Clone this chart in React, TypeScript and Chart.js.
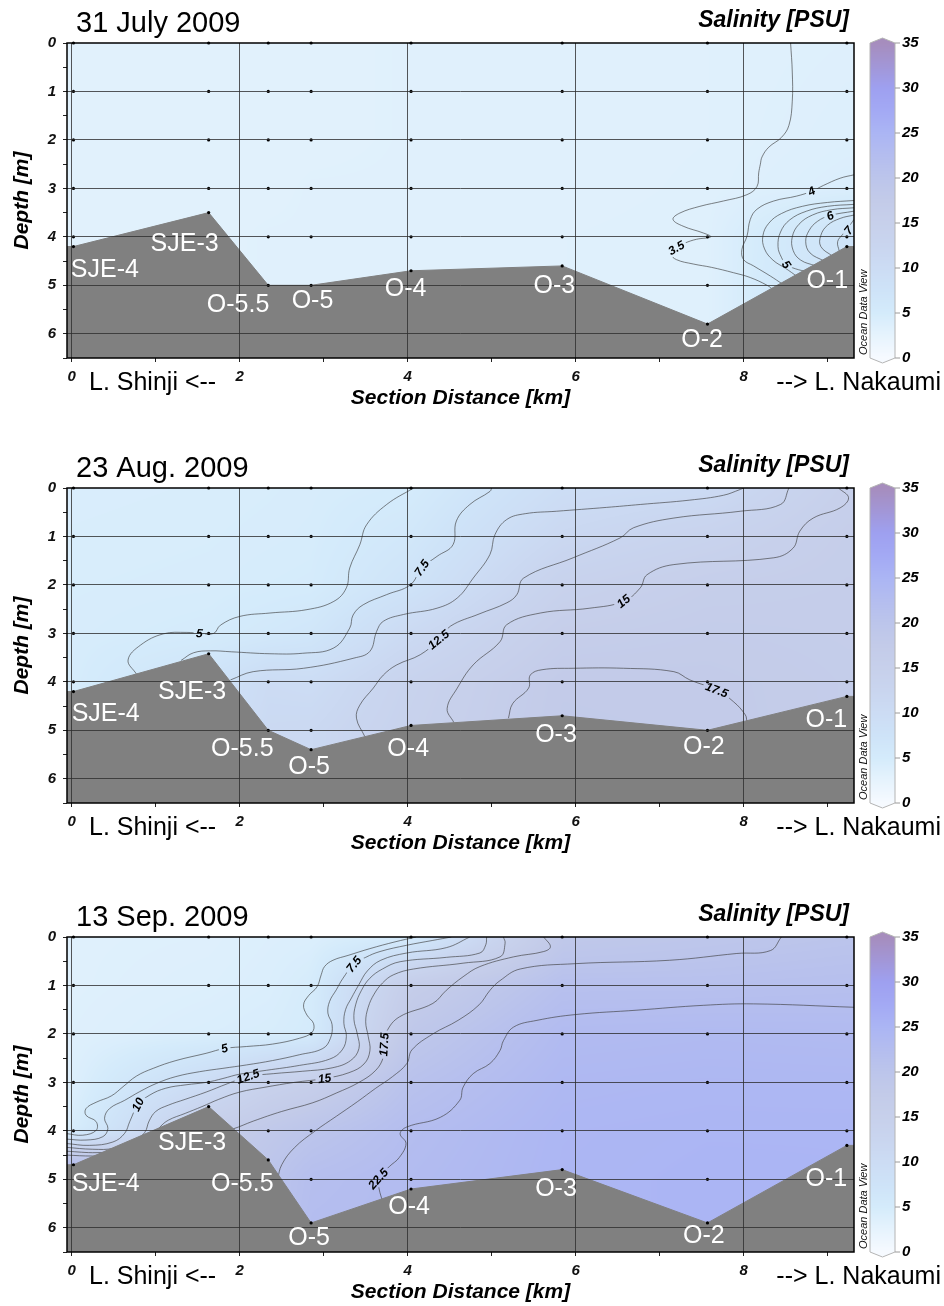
import React, { useEffect, useRef } from 'react';
import { Chart, registerables } from 'chart.js';

Chart.register(...registerables);

// ---------------- data ----------------
const stationKm = [0.02, 1.63, 2.34, 2.85, 4.04, 5.84, 7.57, 9.23];
const stationNames = ['SJE-4', 'SJE-3', 'O-5.5', 'O-5', 'O-4', 'O-3', 'O-2', 'O-1'];
const profileDepths = [0, 1, 2, 3, 4, 5, 6];
const colorbarTicks = [0, 5, 10, 15, 20, 25, 30, 35];
const panelTitles = ['31 July 2009', '23 Aug. 2009', '13 Sep. 2009'];

// bottom depth (m) at each station
const julyBottom = [4.2, 3.5, 5.0, 5.0, 4.7, 4.6, 5.8, 4.2];
const augBottom = [4.2, 3.42, 5.0, 5.4, 4.9, 4.7, 5.0, 4.3];
const sepBottom = [4.7, 3.5, 4.6, 5.9, 5.2, 4.8, 5.9, 4.3];

// salinity profiles (PSU) at profileDepths for each station
const julySalinity = [
  [3.2, 3.2, 3.2, 3.2, 3.2, 3.2, 3.2],
  [3.2, 3.2, 3.2, 3.2, 3.2, 3.2, 3.2],
  [3.2, 3.2, 3.2, 3.2, 3.3, 3.3, 3.3],
  [3.2, 3.2, 3.2, 3.3, 3.3, 3.3, 3.3],
  [3.3, 3.3, 3.3, 3.3, 3.3, 3.3, 3.3],
  [3.3, 3.3, 3.3, 3.3, 3.4, 3.4, 3.4],
  [3.4, 3.4, 3.4, 3.45, 3.5, 3.45, 3.45],
  [3.6, 3.7, 3.8, 4.1, 7.5, 7.8, 7.8],
];
const augSalinity = [
  [4.3, 4.4, 4.5, 4.6, 4.7, 4.7, 4.7],
  [4.4, 4.5, 4.6, 5.0, 7.5, 7.5, 7.5],
  [4.5, 4.6, 4.8, 5.8, 10.2, 11, 11],
  [4.6, 4.7, 4.9, 6.5, 9.8, 11.2, 11.2],
  [5.0, 6.2, 7.5, 10.8, 13.5, 14, 14],
  [9.5, 11.5, 14, 16, 17.6, 17.8, 17.8],
  [10.5, 13.5, 15.8, 16.8, 17.5, 17.6, 17.6],
  [15, 16, 16.3, 16.5, 16.7, 16.7, 16.7],
];
const sepSalinity = [
  [3.5, 3.5, 3.6, 3.8, 4.5, 30, 30],
  [3.6, 3.8, 4.2, 10, 16, 18, 18],
  [3.9, 4.1, 4.5, 14, 18.5, 20, 20],
  [4.0, 4.8, 5.0, 15.5, 20, 22, 22.5],
  [5.0, 16.5, 19, 21, 22.5, 23, 23],
  [18.5, 21.5, 23.2, 24, 24.5, 24.6, 24.6],
  [19.4, 21.5, 23.5, 24.3, 24.8, 25, 25],
  [20.2, 21.8, 23.3, 24.2, 24.8, 24.9, 24.9],
];

// contour lines [km, depth]
const julyC35 = [[8.56,0],[8.58,0.6],[8.58,1.2],[8.54,1.7],[8.45,1.95],[8.3,2.15],[8.22,2.35],[8.2,2.5],[8.18,2.68],[8.16,2.96],[8.04,3.13],[7.76,3.26],[7.48,3.37],[7.24,3.51],[7.16,3.64],[7.28,3.78],[7.52,3.92],[7.61,4.0],[7.44,4.05],[7.3,4.13],[7.2,4.23],[7.14,4.36],[7.2,4.47],[7.4,4.56],[7.62,4.63],[7.88,4.74],[8.08,4.84],[8.28,5.0],[8.36,5.1]];
const julyC4 = [[9.315,2.72],[9.15,2.79],[8.95,2.94],[8.81,3.06],[8.63,3.16],[8.36,3.26],[8.16,3.43],[8.08,3.64],[8.04,3.99],[7.98,4.26],[8.0,4.47],[8.12,4.6],[8.32,4.81],[8.46,4.97]];
const julyC45 = [[9.315,3.25],[9.0,3.29],[8.7,3.37],[8.45,3.52],[8.3,3.72],[8.23,3.98],[8.25,4.25],[8.35,4.48],[8.5,4.65],[8.64,4.82]];
const julyC5 = [[9.315,3.33],[9.0,3.37],[8.75,3.47],[8.55,3.65],[8.44,3.9],[8.41,4.2],[8.45,4.42],[8.51,4.57],[8.62,4.66],[8.76,4.72]];
const julyC55 = [[9.315,3.4],[9.05,3.44],[8.82,3.55],[8.66,3.74],[8.58,4.0],[8.59,4.28],[8.68,4.48],[8.86,4.6]];
const julyC6 = [[9.315,3.47],[9.03,3.56],[8.88,3.68],[8.78,3.87],[8.74,4.1],[8.79,4.33],[8.96,4.5]];
const julyC65 = [[9.315,3.55],[9.15,3.62],[9.0,3.76],[8.92,3.97],[8.92,4.2],[9.06,4.4]];
const julyC7 = [[9.315,3.64],[9.25,3.8],[9.18,3.95],[9.12,4.1],[9.14,4.3]];

const augC5 = [[0.77,3.84],[0.67,3.55],[0.82,3.24],[1.09,3.01],[1.37,2.98],[1.52,3.0],[1.69,3.0],[1.77,2.83],[2.0,2.65],[2.36,2.58],[2.8,2.51],[3.12,2.34],[3.27,2.06],[3.31,1.65],[3.43,1.17],[3.51,0.76],[3.75,0.34],[4.07,0]];
const augC75 = [[1.3,3.56],[1.45,3.4],[1.65,3.36],[1.9,3.38],[2.36,3.42],[2.75,3.41],[3.12,3.3],[3.31,2.89],[3.35,2.62],[3.47,2.41],[3.75,2.2],[4.03,2.0],[4.17,1.65],[4.35,1.41],[4.54,1.17],[4.58,0.68],[4.74,0.34],[4.98,0.07],[5.0,0]];
const augC10 = [[1.89,3.96],[2.16,3.79],[2.76,3.72],[3.36,3.51],[3.55,3.37],[3.63,2.96],[3.71,2.75],[3.95,2.61],[4.35,2.48],[4.59,2.27],[4.78,1.86],[4.98,1.37],[5.04,0.96],[5.18,0.65],[5.4,0.53],[5.77,0.48],[6.37,0.4],[6.77,0.34],[7.36,0.25],[7.76,0.15],[7.96,0.03],[8.0,0]];
const augC125 = [[3.49,5.13],[3.39,4.75],[3.43,4.48],[3.59,4.13],[3.71,3.86],[3.87,3.65],[4.15,3.44],[4.37,3.13],[4.51,2.85],[4.85,2.6],[5.18,2.37],[5.3,2.2],[5.38,1.86],[5.97,1.44],[6.53,1.03],[6.69,0.82],[7.17,0.62],[7.96,0.48],[8.44,0.34],[8.54,0]];
const augC15 = [[9.13,0],[9.25,0.2],[9.15,0.41],[8.83,0.62],[8.67,0.89],[8.59,1.24],[8.36,1.44],[7.17,1.58],[6.85,1.79],[6.77,2.06],[6.57,2.34],[6.17,2.48],[5.58,2.58],[5.18,2.82],[5.1,3.17],[4.78,3.65],[4.59,4.13],[4.47,4.55],[4.55,4.84]];
const augC175 = [[5.2,4.75],[5.25,4.45],[5.44,4.13],[5.46,3.86],[5.6,3.75],[5.97,3.72],[6.57,3.72],[7.17,3.79],[7.36,3.96],[7.68,4.17],[7.88,4.41],[8.02,4.68],[8.04,4.82]];

const sepC5 = [[-0.07,4.055],[0.13,4.09],[0.29,3.99],[0.29,3.81],[0.17,3.68],[0.17,3.54],[0.29,3.41],[0.47,3.28],[0.61,3.09],[0.77,2.87],[0.97,2.71],[1.24,2.55],[1.6,2.4],[1.82,2.3],[2.08,2.26],[2.39,2.21],[2.71,2.09],[2.86,1.97],[2.88,1.79],[2.8,1.61],[2.76,1.4],[2.82,1.21],[2.92,1.03],[2.97,0.78],[3.01,0.61],[3.11,0.48],[3.29,0.38],[3.55,0.24],[3.85,0.1],[4.1,0]];
const sepC75 = [[-0.07,4.17],[0.17,4.19],[0.37,4.12],[0.43,3.95],[0.39,3.74],[0.45,3.54],[0.63,3.37],[0.81,3.19],[1.01,3.02],[1.24,2.88],[1.52,2.78],[1.8,2.71],[2.08,2.64],[2.39,2.55],[2.71,2.43],[2.99,2.3],[3.08,2.09],[3.1,1.81],[3.05,1.57],[3.07,1.33],[3.15,1.09],[3.23,0.85],[3.36,0.565],[3.5,0.42],[3.67,0.3],[3.99,0.17],[4.3,0.07],[4.52,0]];
const sepC10 = [[-0.07,4.26],[0.21,4.3],[0.49,4.23],[0.63,4.05],[0.69,3.81],[0.79,3.46],[0.93,3.26],[1.12,3.12],[1.36,3.05],[1.6,3.0],[1.8,2.92],[2.0,2.83],[2.32,2.75],[2.71,2.65],[3.07,2.52],[3.22,2.33],[3.27,2.05],[3.24,1.78],[3.26,1.5],[3.33,1.26],[3.42,0.98],[3.52,0.7],[3.68,0.48],[3.99,0.33],[4.46,0.22],[4.74,0]];
const sepC125 = [[-0.07,4.34],[0.25,4.38],[0.5,4.36],[0.75,4.2],[0.87,4.03],[0.92,3.8],[1.0,3.6],[1.15,3.47],[1.35,3.35],[1.6,3.2],[1.85,3.03],[2.1,2.88],[2.4,2.82],[2.75,2.77],[3.1,2.7],[3.32,2.55],[3.42,2.3],[3.4,2.0],[3.36,1.7],[3.38,1.4],[3.45,1.1],[3.55,0.85],[3.7,0.66],[3.91,0.51],[4.46,0.42],[4.86,0.33],[4.93,0.16],[4.94,0]];
const sepC15 = [[-0.07,4.42],[0.3,4.45],[0.6,4.4],[0.9,4.2],[1.05,3.92],[1.15,3.78],[1.35,3.64],[1.55,3.5],[1.75,3.35],[2.0,3.2],[2.3,3.1],[2.65,3.0],[3.01,2.92],[3.3,2.8],[3.48,2.62],[3.55,2.35],[3.53,2.05],[3.5,1.75],[3.53,1.45],[3.6,1.18],[3.7,0.95],[3.83,0.78],[4.07,0.66],[4.66,0.54],[5.1,0.41],[5.16,0.13],[5.14,0]];
const sepC175 = [[-0.07,4.5],[0.25,4.52],[0.6,4.5],[1.2,4.3],[1.7,4.05],[1.92,3.96],[2.16,3.8],[2.5,3.6],[2.87,3.42],[3.15,3.22],[3.42,3.0],[3.62,2.75],[3.71,2.48],[3.72,2.22],[3.75,1.95],[3.9,1.65],[4.3,1.37],[4.46,1.1],[4.66,0.82],[4.86,0.61],[5.26,0.41],[5.62,0.3],[5.7,0.2],[5.62,0]];
const sepC20 = [[8.45,0],[8.32,0.28],[7.92,0.34],[7.12,0.48],[6.0,0.55],[5.34,0.66],[5.1,0.9],[4.98,1.1],[4.85,1.4],[4.6,1.72],[4.3,2.0],[4.05,2.33],[3.99,2.61],[3.82,2.88],[3.62,3.12],[3.4,3.4],[3.15,3.7],[2.9,4.0],[2.65,4.35],[2.5,4.7],[2.45,5.0]];
const sepC225 = [[9.315,1.45],[8.12,1.38],[7.52,1.41],[6.73,1.51],[6.0,1.6],[5.54,1.72],[5.26,1.86],[5.14,2.14],[5.1,2.34],[4.98,2.61],[4.78,2.82],[4.66,3.1],[4.62,3.37],[4.39,3.72],[3.99,3.92],[3.91,4.06],[3.98,4.26],[3.9,4.55],[3.78,4.74],[3.65,4.99],[3.66,5.2],[3.7,5.45]];

const julyLevels = [3.5, 4, 4.5, 5, 5.5, 6, 6.5, 7];
const augLevels = [5, 7.5, 10, 12.5, 15, 17.5];
const sepLevels = [5, 7.5, 10, 12.5, 15, 17.5, 20, 22.5];

// contour labels: [level, km, depth]
const julyLabels = [[3.5, 7.2, 4.23], [4, 8.81, 3.06], [5, 8.51, 4.57], [6, 9.03, 3.57], [7, 9.25, 3.87]];
const augLabels = [[5, 1.52, 3.0], [7.5, 4.17, 1.65], [12.5, 4.37, 3.13], [15, 6.57, 2.34], [17.5, 7.68, 4.17]];
const sepLabels = [[5, 1.82, 2.3], [7.5, 3.36, 0.565], [10, 0.79, 3.46], [12.5, 2.1, 2.88], [15, 3.01, 2.92], [17.5, 3.72, 2.22], [22.5, 3.65, 4.99]];

// station name annotations [km, depth] (left edge, vertical centre)
const julyNamePos = [[0.0, 4.69], [0.95, 4.14], [1.62, 5.4], [2.63, 5.33], [3.74, 5.07], [5.51, 5.02], [7.27, 6.14], [8.76, 4.92]];
const augNamePos = [[0.01, 4.66], [1.04, 4.21], [1.67, 5.38], [2.59, 5.76], [3.77, 5.38], [5.53, 5.1], [7.29, 5.35], [8.75, 4.78]];
const sepNamePos = [[0.01, 5.1], [1.04, 4.25], [1.67, 5.1], [2.59, 6.21], [3.78, 5.57], [5.53, 5.21], [7.29, 6.17], [8.75, 5.0]];

// ---------------- styles / layout ----------------
const FONT = '"Liberation Sans", Arial, Helvetica, sans-serif';
const COLORMAP: [number, string][] = [
  [0, '#f6faff'], [2.5, '#e6f3fd'], [5, '#d4ebfb'], [7.5, '#cee3f8'], [10, '#ccdcf4'],
  [12.5, '#c9d5ef'], [15, '#c7d0eb'], [17.5, '#c3cbe9'], [20, '#bcc5eb'], [22.5, '#b4bdef'],
  [25, '#abb5f4'], [27.5, '#a3a9f4'], [30, '#9ea0f0'], [32.5, '#a296d6'], [35, '#a68dbd'],
];
const X_MIN = -0.057;
const X_MAX = 9.315;
const Y_MAX = 6.5;
const PLOT_TOP = 43;
const PLOT_H = 315;
const Y_AXIS_W = 67;
const RIGHT_PAD = 90;
const GRID = 'rgba(45,45,45,0.8)';
const CONTOUR = 'rgba(60,60,60,0.8)';

const PANELS = [
  { title: panelTitles[0], bottom: julyBottom, salinity: julySalinity, contours: [julyC35, julyC4, julyC45, julyC5, julyC55, julyC6, julyC65, julyC7], levels: julyLevels, labels: julyLabels, names: julyNamePos, top: 0, height: 445 },
  { title: panelTitles[1], bottom: augBottom, salinity: augSalinity, contours: [augC5, augC75, augC10, augC125, augC15, augC175], levels: augLevels, labels: augLabels, names: augNamePos, top: 445, height: 449 },
  { title: panelTitles[2], bottom: sepBottom, salinity: sepSalinity, contours: [sepC5, sepC75, sepC10, sepC125, sepC15, sepC175, sepC20, sepC225], levels: sepLevels, labels: sepLabels, names: sepNamePos, top: 894, height: 412 },
];

// ---------------- helpers ----------------
function hexRgb(h: string): number[] {
  const n = parseInt(h.slice(1), 16);
  return [(n >> 16) & 255, (n >> 8) & 255, n & 255];
}
const CMAP = COLORMAP.map(([v, c]) => ({ v, c: hexRgb(c) }));
function salColor(v: number): number[] {
  if (v <= CMAP[0].v) return CMAP[0].c;
  for (let i = 1; i < CMAP.length; i++) {
    if (v <= CMAP[i].v) {
      const a = CMAP[i - 1], b = CMAP[i];
      const t = (v - a.v) / (b.v - a.v);
      return [a.c[0] + (b.c[0] - a.c[0]) * t, a.c[1] + (b.c[1] - a.c[1]) * t, a.c[2] + (b.c[2] - a.c[2]) * t];
    }
  }
  return CMAP[CMAP.length - 1].c;
}
function rgbStr(c: number[]) {
  return `rgb(${Math.round(c[0])},${Math.round(c[1])},${Math.round(c[2])})`;
}
function profileAt(vals: number[], d: number) {
  const n = profileDepths.length;
  if (d <= profileDepths[0]) return vals[0];
  if (d >= profileDepths[n - 1]) return vals[n - 1];
  let i = 0;
  while (d > profileDepths[i + 1]) i++;
  const t = (d - profileDepths[i]) / (profileDepths[i + 1] - profileDepths[i]);
  return vals[i] + (vals[i + 1] - vals[i]) * t;
}
function fieldAt(sal: number[][], km: number, d: number) {
  const n = stationKm.length;
  if (km <= stationKm[0]) return profileAt(sal[0], d);
  if (km >= stationKm[n - 1]) return profileAt(sal[n - 1], d);
  let j = 0;
  while (km > stationKm[j + 1]) j++;
  const t = (km - stationKm[j]) / (stationKm[j + 1] - stationKm[j]);
  return profileAt(sal[j], d) * (1 - t) + profileAt(sal[j + 1], d) * t;
}

const LABEL_FONT = `italic bold 12px ${FONT}`;

function labelGeoms(chart: any, spec: any) {
  const xs = chart.scales.x, ys = chart.scales.y;
  const ctx = chart.ctx;
  ctx.save();
  ctx.font = LABEL_FONT;
  const out = spec.labels.map(([level, km, depth]: number[]) => {
    const px = xs.getPixelForValue(km), py = ys.getPixelForValue(depth);
    let best = Infinity, ang = 0;
    spec.contours.forEach((pts: number[][], ci: number) => {
      if (spec.levels[ci] !== level) return;
      for (let i = 0; i < pts.length - 1; i++) {
        const x1 = xs.getPixelForValue(pts[i][0]), y1 = ys.getPixelForValue(pts[i][1]);
        const x2 = xs.getPixelForValue(pts[i + 1][0]), y2 = ys.getPixelForValue(pts[i + 1][1]);
        const dx = x2 - x1, dy = y2 - y1;
        const l2 = dx * dx + dy * dy || 1;
        let t = ((px - x1) * dx + (py - y1) * dy) / l2;
        t = Math.max(0, Math.min(1, t));
        const qx = x1 + dx * t - px, qy = y1 + dy * t - py;
        const dist = qx * qx + qy * qy;
        if (dist < best) { best = dist; ang = Math.atan2(dy, dx); }
      }
    });
    if (ang > Math.PI / 2) ang -= Math.PI;
    if (ang < -Math.PI / 2) ang += Math.PI;
    const text = String(level);
    const w = ctx.measureText(text).width + 5;
    return { level, px, py, ang, text, w, h: 12 };
  });
  ctx.restore();
  return out;
}

function makePlugin(spec: any) {
  return {
    id: 'odvPanel',
    beforeDatasetsDraw(chart: any) {
      const { left, top, right, bottom } = chart.chartArea;
      const xs = chart.scales.x, ys = chart.scales.y;
      const M = 14;
      const w = Math.ceil(right - left) + 2 * M, h = Math.ceil(bottom - top) + 2 * M;
      const off = document.createElement('canvas');
      off.width = w; off.height = h;
      const octx = off.getContext('2d')!;
      const img = octx.createImageData(w, h);
      for (let i = 0; i < w; i++) {
        const km = xs.getValueForPixel(left - M + i + 0.5);
        for (let j = 0; j < h; j++) {
          const d = ys.getValueForPixel(top - M + j + 0.5);
          const c = salColor(fieldAt(spec.salinity, km, d));
          const k = (j * w + i) * 4;
          img.data[k] = c[0]; img.data[k + 1] = c[1]; img.data[k + 2] = c[2]; img.data[k + 3] = 255;
        }
      }
      octx.putImageData(img, 0, 0);
      const ctx = chart.ctx;
      ctx.save();
      ctx.beginPath();
      ctx.rect(left, top, right - left, bottom - top);
      ctx.clip();
      ctx.filter = 'blur(5px)';
      ctx.drawImage(off, left - M, top - M);
      ctx.filter = 'none';
      ctx.restore();
      chart.$labelGeoms = labelGeoms(chart, spec);
    },
    beforeDatasetDraw(chart: any, args: any) {
      const ds = chart.data.datasets[args.index];
      if (ds.contourLevel === undefined) return;
      const ctx = chart.ctx;
      ctx.save();
      ctx.beginPath();
      ctx.rect(0, 0, chart.width, chart.height);
      (chart.$labelGeoms || []).filter((g: any) => g.level === ds.contourLevel).forEach((g: any) => {
        const c = Math.cos(g.ang), s = Math.sin(g.ang);
        const hw = g.w / 2, hh = g.h / 2;
        const corners = [[-hw, -hh], [-hw, hh], [hw, hh], [hw, -hh]];
        corners.forEach(([a, b], i) => {
          const X = g.px + a * c - b * s, Y = g.py + a * s + b * c;
          if (i === 0) ctx.moveTo(X, Y); else ctx.lineTo(X, Y);
        });
        ctx.closePath();
      });
      ctx.clip('evenodd');
    },
    afterDatasetDraw(chart: any, args: any) {
      const ds = chart.data.datasets[args.index];
      if (ds.contourLevel === undefined) return;
      chart.ctx.restore();
    },
    afterDraw(chart: any) {
      const ctx = chart.ctx;
      const xs = chart.scales.x, ys = chart.scales.y;
      const { left, top, right, bottom } = chart.chartArea;
      ctx.save();
      // contour labels
      ctx.fillStyle = '#000';
      ctx.font = LABEL_FONT;
      ctx.textAlign = 'center';
      ctx.textBaseline = 'middle';
      (chart.$labelGeoms || []).forEach((g: any) => {
        ctx.save();
        ctx.translate(g.px, g.py);
        ctx.rotate(g.ang);
        ctx.fillText(g.text, 0, 0.5);
        ctx.restore();
      });
      // station names
      ctx.fillStyle = '#ffffff';
      ctx.font = `25px ${FONT}`;
      ctx.textAlign = 'left';
      ctx.textBaseline = 'middle';
      spec.names.forEach(([km, d]: number[], i: number) => {
        ctx.fillText(stationNames[i], xs.getPixelForValue(km) - 1, ys.getPixelForValue(d));
      });
      // frame
      ctx.strokeStyle = '#000';
      ctx.lineWidth = 1.5;
      ctx.strokeRect(left, top, right - left, bottom - top);
      // titles
      ctx.fillStyle = '#000';
      ctx.textBaseline = 'alphabetic';
      ctx.textAlign = 'left';
      ctx.font = `29px ${FONT}`;
      ctx.fillText(spec.title, 76, 32);
      ctx.textAlign = 'right';
      ctx.font = `italic bold 23px ${FONT}`;
      ctx.fillText('Salinity [PSU]', 849, 27);
      // axis titles
      ctx.textAlign = 'center';
      ctx.font = `italic bold 21px ${FONT}`;
      ctx.fillText('Section Distance [km]', (left + right) / 2, bottom + 46);
      ctx.save();
      ctx.translate(28, (top + bottom) / 2);
      ctx.rotate(-Math.PI / 2);
      ctx.fillText('Depth [m]', 0, 0);
      ctx.restore();
      // lake directions
      ctx.font = `25px ${FONT}`;
      ctx.textAlign = 'left';
      ctx.fillText('L. Shinji <--', 89, bottom + 32);
      ctx.textAlign = 'right';
      ctx.fillText('--> L. Nakaumi', 941, bottom + 32);
      // colour bar
      const cbL = right + 16, cbR = right + 41, cbM = (cbL + cbR) / 2;
      const vmax = colorbarTicks[colorbarTicks.length - 1];
      for (let y = top; y < bottom; y++) {
        const v = vmax * (bottom - (y + 0.5)) / (bottom - top);
        ctx.fillStyle = rgbStr(salColor(v));
        ctx.fillRect(cbL, y, cbR - cbL, 1);
      }
      ctx.fillStyle = rgbStr(salColor(vmax));
      ctx.beginPath(); ctx.moveTo(cbL, top); ctx.lineTo(cbM, top - 5); ctx.lineTo(cbR, top); ctx.closePath(); ctx.fill();
      ctx.fillStyle = rgbStr(salColor(0));
      ctx.beginPath(); ctx.moveTo(cbL, bottom); ctx.lineTo(cbM, bottom + 5); ctx.lineTo(cbR, bottom); ctx.closePath(); ctx.fill();
      ctx.strokeStyle = '#b4b4b4';
      ctx.lineWidth = 1;
      ctx.beginPath();
      ctx.moveTo(cbL, top); ctx.lineTo(cbM, top - 5); ctx.lineTo(cbR, top); ctx.lineTo(cbR, bottom);
      ctx.lineTo(cbM, bottom + 5); ctx.lineTo(cbL, bottom); ctx.closePath(); ctx.stroke();
      ctx.font = `italic bold 15px ${FONT}`;
      ctx.textAlign = 'left';
      ctx.textBaseline = 'middle';
      ctx.fillStyle = '#000';
      colorbarTicks.forEach((v) => {
        const y = bottom - (bottom - top) * v / vmax;
        ctx.strokeStyle = '#9a9a9a';
        ctx.beginPath(); ctx.moveTo(cbR, y); ctx.lineTo(cbR + 5, y); ctx.stroke();
        ctx.fillText(String(v), cbR + 7, y);
      });
      // ODV tag
      ctx.save();
      ctx.translate(right + 12.5, bottom - 3);
      ctx.rotate(-Math.PI / 2);
      ctx.font = `italic 11px ${FONT}`;
      ctx.textAlign = 'left';
      ctx.textBaseline = 'alphabetic';
      ctx.fillStyle = '#111';
      ctx.fillText('Ocean Data View', 0, 0);
      ctx.restore();
      ctx.restore();
    },
  };
}

function buildConfig(spec: any): any {
  const topo = [{ x: X_MIN, y: spec.bottom[0] }, ...stationKm.map((k, i) => ({ x: k, y: spec.bottom[i] })), { x: X_MAX, y: spec.bottom[spec.bottom.length - 1] }];
  const dots: { x: number; y: number }[] = [];
  stationKm.forEach((k, i) => {
    const b = spec.bottom[i];
    for (let d = 0; d <= b + 1e-6; d++) dots.push({ x: k, y: d });
    if (Math.abs(b - Math.round(b)) > 1e-6) dots.push({ x: k, y: b });
  });
  const tickFont = { family: FONT, size: 15, style: 'italic', weight: 'bold' };
  const contourSets = spec.contours.map((pts: number[][], i: number) => ({
    type: 'line',
    label: 'S ' + spec.levels[i],
    contourLevel: spec.levels[i],
    data: pts.map(([x, y]) => ({ x, y })),
    showLine: true,
    borderColor: CONTOUR,
    borderWidth: 0.8,
    pointRadius: 0,
    tension: 0.4,
    fill: false,
    order: 2,
  }));
  return {
    type: 'scatter',
    data: {
      datasets: [
        { type: 'scatter', label: 'samples', data: dots, pointRadius: 1.6, pointBackgroundColor: '#000', pointBorderWidth: 0, order: 0, clip: false },
        { type: 'line', label: 'bottom', data: topo, showLine: true, fill: { value: Y_MAX }, backgroundColor: '#808080', borderColor: '#808080', borderWidth: 1, pointRadius: 0, tension: 0, order: 1 },
        ...contourSets,
      ],
    },
    options: {
      responsive: false,
      maintainAspectRatio: false,
      animation: false,
      events: [],
      layout: { padding: { left: 0, right: RIGHT_PAD, top: PLOT_TOP, bottom: 0 } },
      plugins: { legend: { display: false }, tooltip: { enabled: false }, title: { display: false } },
      scales: {
        x: {
          type: 'linear',
          min: X_MIN,
          max: X_MAX,
          afterFit: (s: any) => { s.height = spec.height - PLOT_TOP - PLOT_H; },
          ticks: {
            stepSize: 1,
            includeBounds: false,
            autoSkip: false,
            maxRotation: 0,
            padding: 6,
            color: '#111',
            font: tickFont,
            callback: (v: number) => (Math.round(v) % 2 === 0 ? String(Math.round(v)) : ''),
          },
          grid: {
            z: 1,
            lineWidth: 1,
            color: (c: any) => (c.tick && Math.round(c.tick.value) % 2 === 0 ? GRID : 'rgba(0,0,0,0)'),
            tickColor: '#222',
            tickLength: 4,
          },
          border: { display: false },
        },
        y: {
          type: 'linear',
          reverse: true,
          min: 0,
          max: Y_MAX,
          afterFit: (s: any) => { s.width = Y_AXIS_W; },
          ticks: {
            stepSize: 0.5,
            includeBounds: false,
            autoSkip: false,
            padding: 7,
            color: '#111',
            font: tickFont,
            callback: (v: number) => (Math.abs(v - Math.round(v)) < 1e-6 ? String(Math.round(v)) : ''),
          },
          grid: {
            z: 1,
            lineWidth: 1,
            color: (c: any) => {
              const v = c.tick ? c.tick.value : 0;
              return Math.abs(v - Math.round(v)) < 1e-6 && v > 0 && v < Y_MAX ? GRID : 'rgba(0,0,0,0)';
            },
            tickColor: '#222',
            tickLength: 4,
          },
          border: { display: false },
        },
      },
    },
    plugins: [makePlugin(spec)],
  };
}

function Panel({ spec }: { spec: any }) {
  const ref = useRef<HTMLCanvasElement>(null);
  useEffect(() => {
    if (!ref.current) return;
    const chart = new Chart(ref.current, buildConfig(spec));
    return () => chart.destroy();
  }, [spec]);
  return (
    <canvas
      ref={ref}
      width={944}
      height={spec.height}
      style={{ position: 'absolute', left: 0, top: spec.top, width: 944, height: spec.height }}
    />
  );
}

export default function App() {
  return (
    <div style={{ position: 'absolute', left: 0, top: 0, width: 944, height: 1306, background: '#ffffff', overflow: 'hidden' }}>
      {PANELS.map((p, i) => (
        <Panel key={i} spec={p} />
      ))}
    </div>
  );
}
